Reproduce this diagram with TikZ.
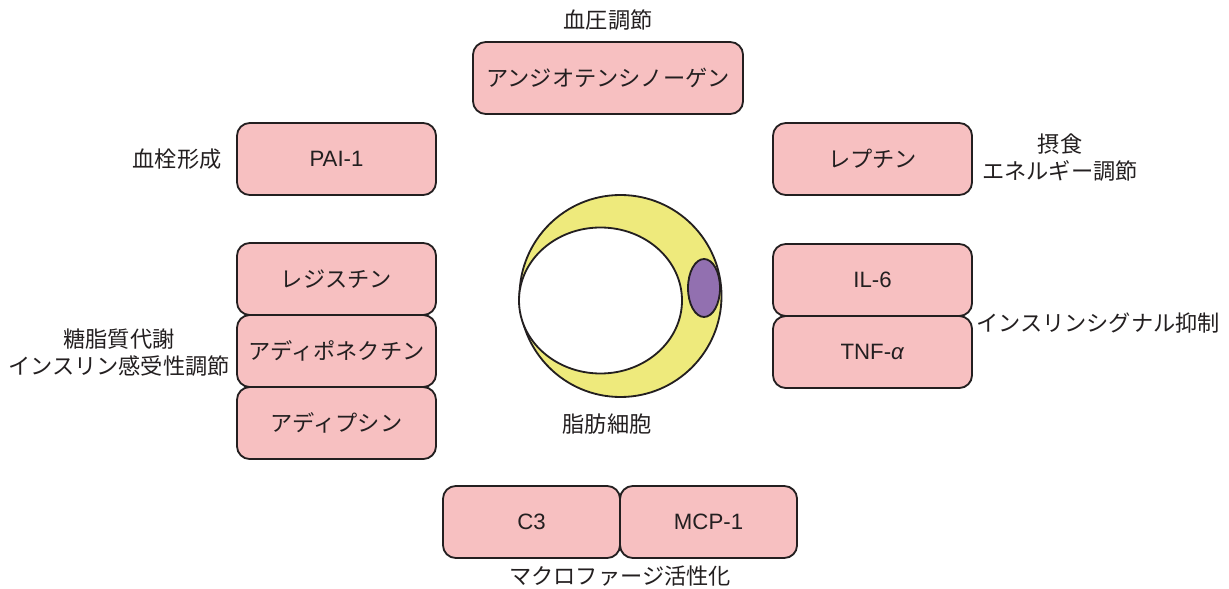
\documentclass[tikz,border=0pt]{standalone}
\usepackage{fontspec}
\setmainfont{Liberation Sans}
\newfontfamily\jp{Noto Sans CJK JP}
\usetikzlibrary{positioning}
\definecolor{boxpink}{RGB}{247,192,193}
\definecolor{cellyellow}{RGB}{238,234,124}
\definecolor{nucleuspurple}{RGB}{146,112,176}
\definecolor{inkdark}{RGB}{35,31,32}

\begin{document}
\begin{tikzpicture}[
        x=0.025cm, y=-0.025cm,
        factor/.style={draw=inkdark, line width=1.3pt, rounded corners=0.32cm, fill=boxpink,
            minimum width=4.975cm, minimum height=1.8cm, outer sep=0pt, text=inkdark,
            font=\fontsize{15.8}{19}\selectfont},
        role/.style={align=center, text=inkdark, inner sep=0pt, font=\fontsize{15.8}{19.2}\selectfont\jp}
    ]
        \useasboundingbox (0,0) rectangle (1229,589);

        % Adipocyte
        \draw[inkdark, line width=1.3pt, fill=cellyellow] (620.5,296) circle[radius=101];
        \draw[inkdark, line width=1.3pt, fill=white] (600.5,300.5) ellipse[x radius=81.5, y radius=73];
        \draw[inkdark, line width=1.3pt, fill=nucleuspurple] (704,288) ellipse[x radius=16, y radius=29];
        \node[role] (cell) at (607,424) {脂肪細胞};

        % Top
        \node[factor, minimum width=6.75cm] (agt) at (608,78) {\jp アンジオテンシノーゲン};
        \node[role] (bp) at (608,20) {血圧調節};

        % Left column
        \node[factor] (pai) at (336.5,159) {PAI-1};
        \node[role] (thromb) at (177,159) {血栓形成};

        \node[factor] (resistin) at (336.5,279) {\jp レジスチン};
        \node[factor, below=0pt of resistin] (adipo) {\jp アディポネクチン};
        \node[factor, below=0pt of adipo] (adipsin) {\jp アディプシン};
        \node[role] (metab) at (119,353) {糖脂質代謝\\インスリン感受性調節};

        % Right column
        \node[factor] (leptin) at (872.5,159) {\jp レプチン};
        \node[role] (feed) at (1060,158) {摂食\\エネルギー調節};

        \node[factor] (il6) at (872.5,280) {IL-6};
        \node[factor, below=0pt of il6] (tnf) {TNF-\textit{α}};
        \node[role] (insig) at (1098,323) {インスリンシグナル抑制};

        % Bottom
        \node[factor, minimum width=4.425cm] (c3) at (531.5,522) {C3};
        \node[factor, minimum width=4.425cm, right=0pt of c3] (mcp) {MCP-1};
        \node[role] (macro) at (620,576) {マクロファージ活性化};
    \end{tikzpicture}
\end{document}
